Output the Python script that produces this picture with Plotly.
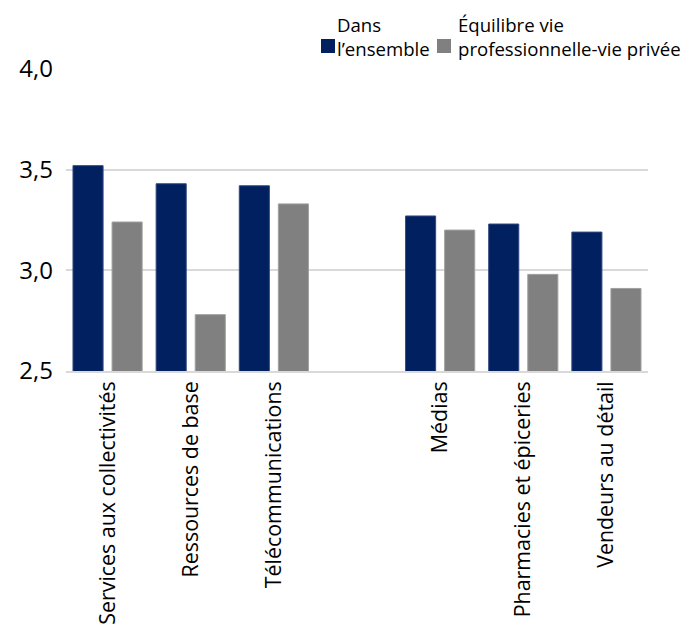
import plotly.graph_objects as go

# Sector categories (the blank entry separates the two groups)
categories = [
    "Services aux collectivités",
    "Ressources de base",
    "Télécommunications",
    " ",
    "Médias",
    "Pharmacies et épiceries",
    "Vendeurs au détail",
]
overall = [3.52, 3.43, 3.42, None, 3.27, 3.23, 3.19]
work_life = [3.24, 2.78, 3.33, None, 3.20, 2.98, 2.91]

series_names = ["Dans<br>l’ensemble", "Équilibre vie<br>professionnelle-vie privée"]
series_colors = ["#002060", "#808080"]
y_ticks = [2.5, 3.0, 3.5, 4.0]

font_family = "Open Sans, Noto Sans, sans-serif"

# Plot area in pixels (used to place the legend keys above the plot)
W, H = 684, 624
M_L, M_R, M_T, M_B = 66, 36, 69, 253
PW, PH = W - M_L - M_R, H - M_T - M_B


def px_x(x):
    return (x - M_L) / PW


def px_y(y):
    return (H - M_B - y) / PH


fig = go.Figure()
fig.add_trace(go.Bar(
    x=categories, y=overall, name=series_names[0],
    marker=dict(color=series_colors[0], line=dict(color="#33497f", width=1)),
))
fig.add_trace(go.Bar(
    x=categories, y=work_life, name=series_names[1],
    marker=dict(color=series_colors[1], line=dict(color="#a0a0a0", width=1)),
))

# Legend: colour key squares plus two-line labels
legend_keys_x = [321, 437]
legend_text_x = [335, 456]
for name, color, kx, tx in zip(series_names, series_colors, legend_keys_x, legend_text_x):
    fig.add_shape(
        type="rect", xref="paper", yref="paper",
        x0=px_x(kx), x1=px_x(kx + 14), y0=px_y(53), y1=px_y(39),
        fillcolor=color, line=dict(width=0),
    )
    fig.add_annotation(
        text=name, xref="paper", yref="paper",
        x=px_x(tx), y=px_y(10), xanchor="left", yanchor="top",
        align="left", showarrow=False,
        font=dict(size=18.6, family=font_family, color="#000000"),
    )

fig.update_layout(
    width=W, height=H,
    margin=dict(l=M_L, r=M_R, t=M_T, b=M_B, autoexpand=False),
    paper_bgcolor="white", plot_bgcolor="white",
    font=dict(family=font_family, color="#000000"),
    barmode="group", bargap=0.06, bargroupgap=0.23,
    separators=", ",
    showlegend=False,
)
fig.update_yaxes(
    range=[2.5, 4.0], tickvals=y_ticks, tickformat=".1f",
    showgrid=True, gridcolor="#d9d9d9", gridwidth=1.5,
    zeroline=False, showline=False, ticks="", automargin=False,
    tickfont=dict(size=24, family=font_family), ticklabelstandoff=12,
)
fig.update_xaxes(
    tickangle=-90, tickfont=dict(size=21.4, family=font_family),
    showline=True, linecolor="#d9d9d9", linewidth=1.5, ticks="",
    showgrid=False, automargin=False,
)

fig.write_html("out.html")
